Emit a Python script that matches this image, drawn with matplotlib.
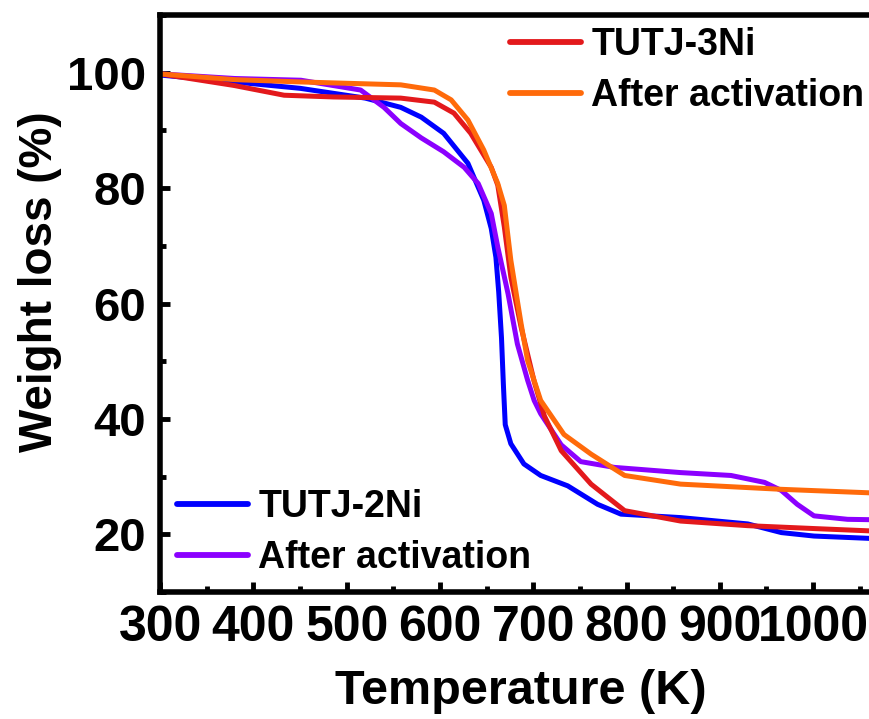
import matplotlib
matplotlib.use("Agg")
import matplotlib.pyplot as plt
from matplotlib.ticker import MultipleLocator

plt.rcParams['font.family'] = ['Liberation Sans', 'DejaVu Sans']
plt.rcParams['font.weight'] = 'bold'

# TGA curves: temperature (K) vs remaining weight (%)
t_2ni = [300, 380, 450, 520, 558, 580, 604, 630, 647, 655, 660, 663, 666, 668,
         670, 676, 690, 708, 737, 751, 769, 794, 858, 930, 966, 1001, 1075]
w_2ni = [99.6, 98.4, 97.3, 95.6, 94.0, 92.3, 89.5, 84.3, 77.9, 73.0, 68.0, 62.0,
         54.0, 46.0, 39.0, 35.7, 32.2, 30.2, 28.4, 27.0, 25.2, 23.5, 22.9, 21.8,
         20.3, 19.7, 19.2]

t_2ni_act = [300, 380, 451, 515, 540, 558, 580, 604, 626, 641, 655, 662, 673, 683,
             694, 701, 708, 730, 751, 787, 858, 912, 948, 966, 983, 1001, 1037, 1075]
w_2ni_act = [99.8, 99.0, 98.7, 97.0, 94.0, 91.2, 88.7, 86.3, 83.6, 80.8, 75.6, 69.8,
             61.7, 53.0, 46.7, 43.2, 40.9, 35.5, 32.6, 31.6, 30.7, 30.2, 29.0, 27.6,
             25.2, 23.2, 22.6, 22.5]

t_3ni = [300, 379, 433, 486, 558, 594, 615, 633, 655, 662, 669, 676, 687, 701, 712,
         730, 762, 798, 858, 930, 1001, 1075]
w_3ni = [99.8, 97.8, 96.1, 95.8, 95.6, 94.9, 93.0, 89.5, 83.6, 80.5, 73.3, 64.6,
         55.9, 46.5, 40.5, 34.5, 28.7, 24.1, 22.3, 21.5, 21.0, 20.5]

t_3ni_act = [300, 380, 451, 558, 594, 612, 630, 647, 662, 669, 676, 687, 694, 708,
             733, 762, 798, 858, 966, 1075]
w_3ni_act = [99.8, 98.8, 98.4, 97.9, 97.0, 95.3, 91.8, 86.6, 80.8, 77.0, 67.5, 56.5,
             50.1, 43.2, 37.3, 33.9, 30.2, 28.7, 27.8, 27.1]

labels = ["TUTJ-2Ni", "After activation", "TUTJ-3Ni", "After activation"]
colors = ["#0000FF", "#8B00FF", "#E3191C", "#FF6A0A"]

fig = plt.figure(figsize=(8.7, 7.19), dpi=100)
ax = fig.add_axes([0.184, 0.1766, 0.831, 0.8025])

lw = 3.6
style = dict(lw=lw, solid_joinstyle='round', solid_capstyle='round')
h1, = ax.plot(t_2ni, w_2ni, color=colors[0], **style)
h2, = ax.plot(t_2ni_act, w_2ni_act, color=colors[1], **style)
h3, = ax.plot(t_3ni, w_3ni, color=colors[2], **style)
h4, = ax.plot(t_3ni_act, w_3ni_act, color=colors[3], **style)

ax.set_xlim(300, 1075)
ax.set_ylim(10, 110)
ax.xaxis.set_major_locator(MultipleLocator(100))
ax.xaxis.set_minor_locator(MultipleLocator(50))
ax.yaxis.set_minor_locator(MultipleLocator(10))
ax.set_yticks([20, 40, 60, 80, 100])

for s in ax.spines.values():
    s.set_linewidth(4)
ax.tick_params(which='both', direction='in', top=False, right=False, width=3.5)
ax.tick_params(which='major', length=7, pad=10)
ax.tick_params(which='minor', length=4)
ax.tick_params(axis='x', which='major', labelsize=36, pad=9)
ax.tick_params(axis='y', which='major', labelsize=34)
for lab in ax.get_xticklabels() + ax.get_yticklabels():
    lab.set_fontweight('bold')

ax.set_xlabel("Temperature (K)", fontsize=35, fontweight='bold', va='center')
ax.set_ylabel("Weight loss (%)", fontsize=33, fontweight='bold', va='center')
ax.xaxis.set_label_coords(0.499, -0.172)
ax.yaxis.set_label_coords(-0.166, 0.538)

leg_kw = dict(frameon=False, handlelength=1.9, handletextpad=0.27,
              labelspacing=0.4, borderpad=0, borderaxespad=0,
              prop={'weight': 'bold', 'size': 27})
leg1 = ax.legend([h1, h2], labels[:2], loc='center left',
                 bbox_to_anchor=(0.0235, 0.103), **leg_kw)
for ln in leg1.get_lines():
    ln.set_linewidth(4.2)
ax.add_artist(leg1)
leg2 = ax.legend([h3, h4], labels[2:], loc='center left',
                 bbox_to_anchor=(0.484, 0.903), **leg_kw)
for ln in leg2.get_lines():
    ln.set_linewidth(4.2)

fig.savefig("out.png", dpi=100)
